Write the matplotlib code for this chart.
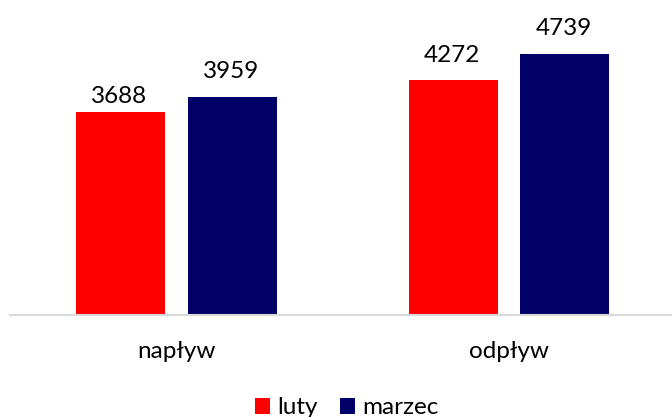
import matplotlib
matplotlib.use("Agg")
import matplotlib.pyplot as plt
import numpy as np
from matplotlib.patches import Patch

# Data
categories = ["napływ", "odpływ"]
series_names = ["luty", "marzec"]
luty = [3688, 4272]
marzec = [3959, 4739]
colors = ["#FF0000", "#000066"]

# gap between bar top and value label (points), labels were placed by hand in the original
label_gap_luty = [6.5, 13]
label_gap_marzec = [13.7, 13.7]

plt.rcParams["font.family"] = ["Lato", "DejaVu Sans"]
fs = 17.5

fig = plt.figure(figsize=(6.72, 4.17), dpi=100)
ax = fig.add_axes([10.25 / 672, 102.5 / 417, 1 - 10.25 / 672, 314.5 / 417])

x = np.arange(len(categories))
width = 0.268
offset = 0.168

bars1 = ax.bar(x - offset, luty, width, color=colors[0])
bars2 = ax.bar(x + offset, marzec, width, color=colors[1])

for bars, vals, gaps in [(bars1, luty, label_gap_luty), (bars2, marzec, label_gap_marzec)]:
    for b, v, g in zip(bars, vals, gaps):
        ax.annotate(str(v), (b.get_x() + b.get_width() / 2, v), xytext=(-1, g),
                    textcoords="offset points", ha="center", va="baseline",
                    fontsize=fs, color="#000000")

ax.set_xlim(-0.5, 1.49)
ax.set_ylim(0, 5721)

ax.set_xticks(x)
ax.set_xticklabels(categories, fontsize=fs)
ax.tick_params(axis="x", length=0, pad=31.3)
for lbl in ax.get_xticklabels():
    lbl.set_va("baseline")
ax.set_yticks([])

for side in ["top", "right", "left"]:
    ax.spines[side].set_visible(False)
ax.spines["bottom"].set_color("#D9D9D9")
ax.spines["bottom"].set_linewidth(1.5)

handles = [Patch(facecolor=c, edgecolor="none") for c in colors]
fig.legend(handles, series_names, loc="center", bbox_to_anchor=(347 / 672, 0.022),
           ncol=2, frameon=False, fontsize=fs, handlelength=0.62, handleheight=0.62,
           handletextpad=0.3, columnspacing=0.9, borderpad=0.0)

fig.savefig("out.png", dpi=100, facecolor="white")
